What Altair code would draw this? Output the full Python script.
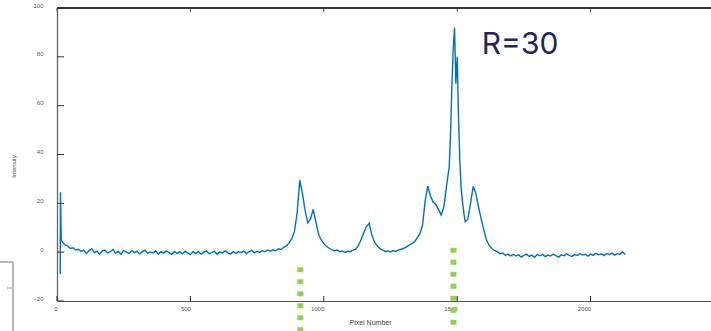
import altair as alt
import pandas as pd

# ---- data ----
head_x = [12, 13, 16]
head_y = [-9.0, 24.5, 5.0]

base_x = list(range(20, 1460, 10))
base_y = [
    4.2, 3.0, 2.5, 1.5, 1.8, 0.9, 1.2, 0.3, 0.8, -0.5,
    0.6, 1.4, -0.2, 0.4, -0.8, 0.5, 0.9, -0.3, 0.2, 1.1,
    -0.4, 0.3, -0.9, 0.6, 0.1, -0.6, 0.7, -0.2, 0.4, -0.7,
    0.2, 0.8, -0.5, 0.1, -0.3, 0.6, -0.8, 0.2, -0.4, 0.5,
    -0.2, -0.9, 0.3, -0.5, 0.1, -0.7, 0.4, -0.3, -1.0, 0.2,
    -0.6, 0.3, -0.8, -0.1, 0.5, -0.6, -0.2, 0.4, -0.9, 0.1,
    -0.4, 0.6, -0.3, -0.8, 0.2, -0.5, 0.3, -0.2, 0.5, -0.6,
    0.1, 0.7, -0.3, 0.4, -0.1, 0.6, 0.2, 0.9, 0.4, 1.0,
    0.6, 1.4, 1.1, 2.0, 2.6, 3.8, 5.5, 8.5, 16.0, 29.5,
    24.0, 17.0, 12.0, 13.5, 17.5, 12.5, 7.5, 5.0, 3.5, 2.4,
    1.6, 1.0, 0.6, 0.9, 0.2, 0.5, -0.1, 0.4, 0.3, 0.8,
    1.2, 2.8, 5.2, 8.0, 10.5, 11.8, 7.0, 4.2, 2.6, 1.4,
    0.9, 0.3, 0.5, 0.1, 0.6, 0.3, 0.9, 1.2, 1.6, 2.2,
    2.9, 3.5, 4.2, 5.8, 7.5, 11.0, 21.0, 27.0, 23.0, 20.5,
    19.5, 17.5, 15.2, 18.5,
]

peak_x = list(range(1460, 1530, 5))
peak_y = [27.0, 31.0, 35.0, 48.0, 68.0, 83.0, 92.0, 69.0, 80.0, 55.0,
          37.0, 26.0, 20.5, 16.0]

tail_x = list(range(1530, 2131, 10))
tail_y = [
    12.5, 13.5, 20.0, 27.0, 24.0, 18.5, 13.5, 9.0, 5.0, 2.8,
    1.5, 0.6, 0.2, -0.6, -0.3, -1.2, -0.8, -1.5, -0.9, -1.6,
    -1.1, -2.0, -1.3, -0.8, -1.7, -1.2, -2.1, -1.0, -1.5, -0.9,
    -1.8, -1.2, -1.6, -0.8, -1.4, -2.0, -1.1, -1.5, -0.7, -1.3,
    -1.8, -1.0, -1.4, -0.6, -1.2, -0.9, -1.6, -0.8, -1.3, -0.5,
    -1.1, -0.7, -1.4, -0.6, -1.0, -0.4, -1.2, -0.6, -0.9, 0.2,
    -1.0,
]

assert len(base_x) == len(base_y), (len(base_x), len(base_y))
assert len(peak_x) == len(peak_y), (len(peak_x), len(peak_y))
assert len(tail_x) == len(tail_y), (len(tail_x), len(tail_y))

x_ticks = [0, 500, 1000, 1500, 2000, 2500]
y_ticks = [-20, 0, 20, 40, 60, 80, 100]

marker_x = [912, 1486]
marker_top = [-6.2, 1.8]
marker_bottom = [-33.0, -33.0]

note_text = ["R=30"]
note_x = [1592]
note_y = [81]

# ---- build ----
xs = head_x + base_x + peak_x + tail_x
ys = head_y + base_y + peak_y + tail_y
df = pd.DataFrame({"pixel": xs, "intensity": ys})

W, H = 654, 293
xscale = alt.Scale(domain=[0, 2500], range=[0, 667], nice=False)
yscale = alt.Scale(domain=[-20, 100], nice=False, zero=False)

x_axis = alt.Axis(
    values=x_ticks, format="d", ticks=False, grid=False,
    labelFontSize=6, labelColor="#555", labelAlign="right", labelPadding=4,
    domainColor="#555", domainWidth=1,
    title="Pixel Number", titleFontSize=7, titleFontWeight="normal",
    titleColor="#444", titleX=313, titleY=21.6, titleBaseline="middle",
)
y_axis = alt.Axis(
    values=y_ticks, format="d", ticks=False, grid=False,
    labelFontSize=6, labelColor="#555", labelPadding=14,
    labelBaseline="middle", labelOffset=-3,
    domainColor="#666", domainWidth=1.3,
    title="Intensity", titleFontSize=6, titleFontWeight="normal",
    titleColor="#444", titleX=-44, titleY=158, titleAngle=270,
    titleBaseline="middle", titleAlign="center",
)

line = alt.Chart(df).mark_line(color="#0072BD", strokeWidth=1.4).encode(
    x=alt.X("pixel:Q", scale=xscale, axis=x_axis),
    y=alt.Y("intensity:Q", scale=yscale, axis=y_axis),
)

xt = pd.DataFrame({"pixel": x_ticks})
yt = pd.DataFrame({"intensity": y_ticks})

bottom_ticks = alt.Chart(xt).mark_rule(color="#222", strokeWidth=1).encode(
    x=alt.X("pixel:Q", scale=xscale), y=alt.value(H), y2=alt.value(H - 5)
)
top_ticks = alt.Chart(xt).mark_rule(color="#555", strokeWidth=1).encode(
    x=alt.X("pixel:Q", scale=xscale), y=alt.value(0), y2=alt.value(4)
)
left_ticks = alt.Chart(yt).mark_rule(color="#333", strokeWidth=1).encode(
    y=alt.Y("intensity:Q", scale=yscale), x=alt.value(0), x2=alt.value(7)
)
top_border = alt.Chart(xt).mark_rule(color="#333", strokeWidth=1).encode(
    x=alt.value(0), x2=alt.value(700), y=alt.value(0)
)

mk = pd.DataFrame({"pixel": marker_x, "intensity": marker_top,
                   "intensity2": marker_bottom})
markers = alt.Chart(mk).mark_rule(
    color="#92D050", strokeWidth=6, strokeDash=[5, 7]
).encode(
    x=alt.X("pixel:Q", scale=xscale),
    y=alt.Y("intensity:Q", scale=yscale),
    y2="intensity2:Q",
)

nt = pd.DataFrame({"pixel": note_x, "intensity": note_y, "label": note_text})
note = alt.Chart(nt).mark_text(
    font="Inter", fontSize=30, color="#27225a", align="left",
    baseline="alphabetic",
).encode(
    x=alt.X("pixel:Q", scale=xscale),
    y=alt.Y("intensity:Q", scale=yscale),
    text="label:N",
)

# grey frame fragment at the lower left of the reference picture
frame_v = alt.Chart(xt).mark_rule(color="#b8b8b8", strokeWidth=1.5).encode(
    x=alt.value(-44), y=alt.value(254), y2=alt.value(330)
)
frame_h = alt.Chart(xt).mark_rule(color="#b8b8b8", strokeWidth=1.5).encode(
    x=alt.value(-57), x2=alt.value(-44), y=alt.value(254)
)
frame_t = alt.Chart(xt).mark_rule(color="#cfcfcf", strokeWidth=1).encode(
    x=alt.value(-50), x2=alt.value(-44), y=alt.value(280)
)

chart = alt.layer(
    frame_v, frame_h, frame_t, line, markers, bottom_ticks, top_ticks,
    left_ticks, top_border, note,
).properties(
    width=W, height=H,
    autosize=alt.AutoSizeParams(type="none"),
    padding={"left": 57, "top": 8, "right": 0, "bottom": 30},
).configure(font="Liberation Sans").configure_view(stroke=None)

chart.save("out.html", embed_options={"renderer": "svg", "actions": False})
